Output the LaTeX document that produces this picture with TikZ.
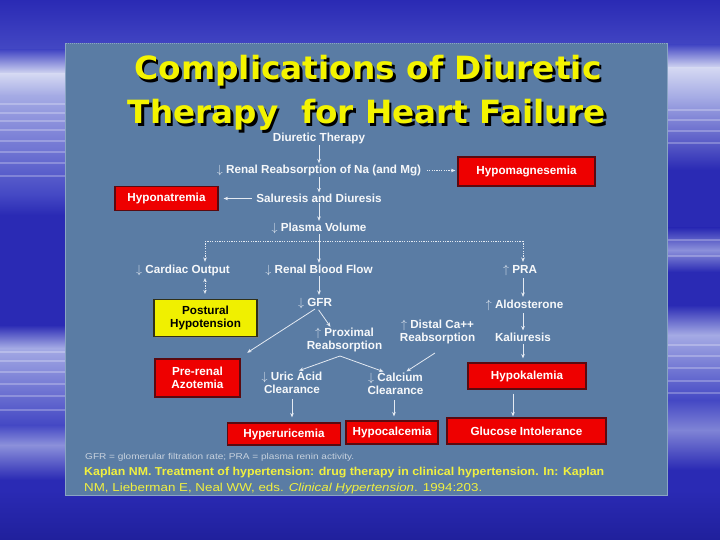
\documentclass[tikz,border=0pt]{standalone}
\usepackage{fontspec}
\usepackage{graphicx}
\setmainfont{Liberation Sans}
\newfontfamily\titlefont{DejaVu Sans}
\usetikzlibrary{arrows.meta,shadows,calc}
\definecolor{bgdeep}{HTML}{2A2AB4}
\definecolor{bgdark}{HTML}{20209C}
\definecolor{bgmid}{HTML}{4448C4}
\definecolor{bglight}{HTML}{A4AAE4}
\definecolor{bgwhite}{HTML}{D4D8F2}
\definecolor{panel}{HTML}{5A7CA4}
\definecolor{paneledge}{HTML}{8AA4C4}
\definecolor{titleyel}{HTML}{F4F400}
\definecolor{citeyel}{HTML}{F0F040}
\definecolor{txtwhite}{HTML}{F6F8FA}
\definecolor{linecol}{HTML}{E4EAF2}
\definecolor{boxred}{HTML}{EE0000}
\definecolor{boxedge}{HTML}{5A0A10}
\definecolor{boxyel}{HTML}{F0F000}
\definecolor{yedge}{HTML}{303018}
\definecolor{footgray}{HTML}{C8D2DE}
\newcommand\bodyfont{\fontsize{11.7}{13}\selectfont\bfseries}
\newcommand\dn{\textcolor{linecol}{$\downarrow$}}
\newcommand\up{\textcolor{linecol}{$\uparrow$}}
\tikzset{
  lbl/.style={text=txtwhite, font=\bodyfont, inner sep=0.5pt, align=center},
  rbox/.style={draw=boxedge, line width=1.2pt, fill=boxred, text=white, font=\bodyfont, inner sep=0pt, align=center},
  ybox/.style={draw=yedge, line width=1.2pt, fill=boxyel, text=black, font=\bodyfont, inner sep=0pt, align=center},
  con/.style={draw=linecol, line width=0.8pt},
  arr/.style={con, -{Stealth[length=4.5pt,width=3.6pt]}},
  dotarr/.style={arr, dash pattern=on 1.2pt off 1.2pt},
  ttl/.style={font=\titlefont\fontsize{32}{36}\selectfont\bfseries, inner sep=0pt, anchor=base},
}
\begin{document}
\begin{tikzpicture}[x=1pt,y=-1pt]
\useasboundingbox (0,0) rectangle (720,540);
% ---------- background ----------
\fill[bgdeep] (0,0) rectangle (720,540);
\shade[top color=bgdeep, bottom color=bgmid] (0,0) rectangle (720,50);
% left strip
\shade[top color=bgmid, bottom color=bgwhite] (0,50) rectangle (66,74);
\shade[top color=bgwhite, bottom color=bglight] (0,74) rectangle (66,96);
\shade[top color=bglight, bottom color=bgmid] (0,96) rectangle (66,195);
\shade[top color=bgmid, bottom color=bgdeep] (0,195) rectangle (66,215);
\shade[top color=bgdeep, bottom color=bglight] (0,325) rectangle (66,348);
\shade[top color=bglight, bottom color=bgmid] (0,348) rectangle (66,425);
\shade[top color=bgmid, bottom color=bglight!80!bgdeep] (0,425) rectangle (66,445);
\shade[top color=bglight!80!bgdeep, bottom color=bgdeep] (0,445) rectangle (66,480);
% right strip
\shade[top color=bgmid, bottom color=bgwhite] (666,45) rectangle (720,68);
\shade[top color=bgwhite, bottom color=bglight] (666,68) rectangle (720,98);
\shade[top color=bglight, bottom color=bgdeep] (666,98) rectangle (720,170);
\shade[top color=bgdeep, bottom color=bglight!80!bgdeep] (666,228) rectangle (720,250);
\shade[top color=bglight!80!bgdeep, bottom color=bgdeep] (666,250) rectangle (720,272);
\shade[top color=bgdeep, bottom color=bglight] (666,305) rectangle (720,335);
\shade[top color=bglight, bottom color=bgmid] (666,335) rectangle (720,400);
\shade[top color=bgmid, bottom color=bglight!70!bgdeep] (666,400) rectangle (720,430);
\shade[top color=bglight!70!bgdeep, bottom color=bgdeep] (666,430) rectangle (720,470);
\shade[top color=bgdeep, bottom color=bgdark] (0,490) rectangle (720,540);
% streaks
\foreach \yy in {104,113,121,130,141,152,163,176}
  \draw[white, opacity=0.25, line width=1.4pt] (0,\yy) -- (66,\yy);
\foreach \yy in {352,361,372,384,396,410}
  \draw[white, opacity=0.25, line width=1.4pt] (0,\yy) -- (66,\yy);
\foreach \yy in {110,120,131,143,240,256,345,356,368,381,393}
  \draw[white, opacity=0.25, line width=1.4pt] (666,\yy) -- (720,\yy);
% ---------- panel ----------
\fill[panel] (65.5,43.5) rectangle (667.5,495.5);
\draw[paneledge, line width=0.8pt, dash pattern=on 1pt off 1pt] (65.5,43.5) -- (667.5,43.5);
\draw[paneledge, line width=0.6pt] (667.5,43.5) -- (667.5,495.5) -- (65.5,495.5) -- (65.5,43.5);
% ---------- title ----------
\node[ttl, text=black] (t1s) at (370.5,82.5) {\resizebox{467pt}{\height}{Complications of Diuretic}};
\node[ttl, text=titleyel] (t1) at (368,80) {\resizebox{467pt}{\height}{Complications of Diuretic}};
\node[ttl, text=black] (t2s) at (369.5,126.5) {\resizebox{478pt}{\height}{Therapy\ \ for Heart Failure}};
\node[ttl, text=titleyel] (t2) at (367,124) {\resizebox{478pt}{\height}{Therapy\ \ for Heart Failure}};
% ---------- nodes ----------
\node[lbl] (dt) at (319,138.5) {Diuretic Therapy};
\node[lbl] (rr) at (319,170.5) {\dn\ Renal Reabsorption of Na (and Mg)};
\node[rbox, minimum width=137pt, minimum height=29pt] (hmg) at (526.5,171.5) {Hypomagnesemia};
\node[lbl] (sd) at (319,198.5) {Saluresis and Diuresis};
\node[rbox, minimum width=103pt, minimum height=24pt] (hna) at (166.5,198.5) {Hyponatremia};
\node[lbl] (pv) at (319,228) {\dn\ Plasma Volume};
\node[lbl] (co) at (183,270) {\dn\ Cardiac Output};
\node[lbl] (rbf) at (319,270) {\dn\ Renal Blood Flow};
\node[lbl] (pra) at (520,270) {\up\ PRA};
\node[ybox, minimum width=103pt, minimum height=37pt, drop shadow={shadow xshift=1.5pt, shadow yshift=-1.5pt, opacity=0.6}] (ph) at (205.5,318) {Postural\\Hypotension};
\node[lbl] (gfr) at (315,303) {\dn\ GFR};
\node[lbl] (ald) at (524.5,305) {\up\ Aldosterone};
\node[lbl] (dist) at (437.5,331.5) {\up\ Distal Ca++\\Reabsorption};
\node[lbl] (prox) at (344.5,339.5) {\up\ Proximal\\Reabsorption};
\node[lbl] (kal) at (523,337.5) {Kaliuresis};
\node[rbox, minimum width=85pt, minimum height=38pt] (pre) at (197.5,378) {Pre-renal\\Azotemia};
\node[lbl] (ua) at (292,382.5) {\dn\ Uric Acid\\Clearance};
\node[lbl] (cc) at (395.5,383.5) {\dn\ Calcium\\Clearance};
\node[rbox, minimum width=118pt, minimum height=26pt] (hk) at (527,376) {Hypokalemia};
\node[rbox, minimum width=113pt, minimum height=22pt] (hu) at (284,434) {Hyperuricemia};
\node[rbox, minimum width=92pt, minimum height=23pt] (hc) at (392,432.5) {Hypocalcemia};
\node[rbox, minimum width=159pt, minimum height=26pt] (gi) at (526.5,431) {Glucose Intolerance};
% ---------- junction coordinates ----------
\coordinate (lft) at (205,241);
\coordinate (rgt) at (523,241);
\coordinate (pj) at (340,356);
\coordinate (dj) at (435,353);
% ---------- connectors ----------
\draw[arr, shorten >=1pt] (dt) -- (rr);
\draw[arr, shorten >=1pt] (rr) -- (sd);
\draw[dotarr, shorten <=5pt, shorten >=2pt] (rr.east) -- (rr.east -| hmg.west);
\draw[arr, shorten <=4pt, shorten >=5pt] (sd.west) -- (hna.east);
\draw[arr, shorten >=1pt] (sd) -- (pv);
\draw[con, dash pattern=on 1.2pt off 1.2pt] (lft) -- (rgt);
\draw[arr, shorten >=1pt] (pv) -- (rbf);
\draw[dotarr, shorten >=2pt] (lft) -- (lft |- co.north);
\draw[dotarr, shorten >=2pt] (rgt) -- (rgt |- pra.north);
\draw[dotarr, {Stealth[length=4pt,width=3.4pt]}-{Stealth[length=4pt,width=3.4pt]}, shorten <=2pt, shorten >=5pt] (lft |- co.south) -- (lft |- ph.north);
\draw[arr, shorten >=2pt] (rbf.south -| pv.south) -- (pv.south |- gfr.north);
\draw[arr, shorten <=1pt] ([xshift=3pt]gfr.south) -- ([xshift=-14pt]prox.north);
\draw[arr, shorten >=3pt] (gfr.south) -- ([xshift=4pt,yshift=4pt]pre.north east);
\draw[arr, shorten >=1pt] (pj) -- ([xshift=6pt]ua.north);
\draw[arr, shorten >=1pt] (pj) -- ([xshift=-11pt]cc.north);
\draw[arr, shorten >=1pt] (dj) -- ([xshift=10pt]cc.north);
\draw[arr, shorten <=2pt, shorten >=2pt] (rgt |- pra.south) -- (rgt |- ald.north);
\draw[arr, shorten <=2pt, shorten >=2pt] (rgt |- ald.south) -- (rgt |- kal.north);
\draw[arr, shorten <=2pt, shorten >=4pt] (rgt |- kal.south) -- (rgt |- hk.north);
\draw[arr, shorten <=5pt, shorten >=5pt] (ua.south) -- (ua.south |- hu.north);
\draw[arr, shorten <=5pt, shorten >=4pt] ([xshift=-1.5pt]cc.south) -- ([xshift=-1.5pt]cc.south |- hc.north);
\draw[arr, shorten <=4pt, shorten >=1pt] ([xshift=-14pt]hk.south) -- ([xshift=-14pt]hk.south |- gi.north);
% ---------- footnotes ----------
\node[text=footgray, font=\fontsize{8.5}{9}\selectfont, inner sep=0pt, anchor=west] (fn) at (85,457.5) {\resizebox{269pt}{\height}{GFR = glomerular filtration rate; PRA = plasma renin activity.}};
\node[text=citeyel, font=\fontsize{11.5}{12}\selectfont\bfseries, inner sep=0pt, anchor=west] (c1) at (84,473) {\resizebox{520pt}{\height}{Kaplan NM. Treatment of hypertension: drug therapy in clinical hypertension. In: Kaplan}};
\node[text=citeyel, font=\fontsize{11.5}{12}\selectfont, inner sep=0pt, anchor=west] (c2) at (84,488.5) {\resizebox{398pt}{\height}{NM, Lieberman E, Neal WW, eds. \textit{Clinical Hypertension}. 1994:203.}};
\end{tikzpicture}
\end{document}
